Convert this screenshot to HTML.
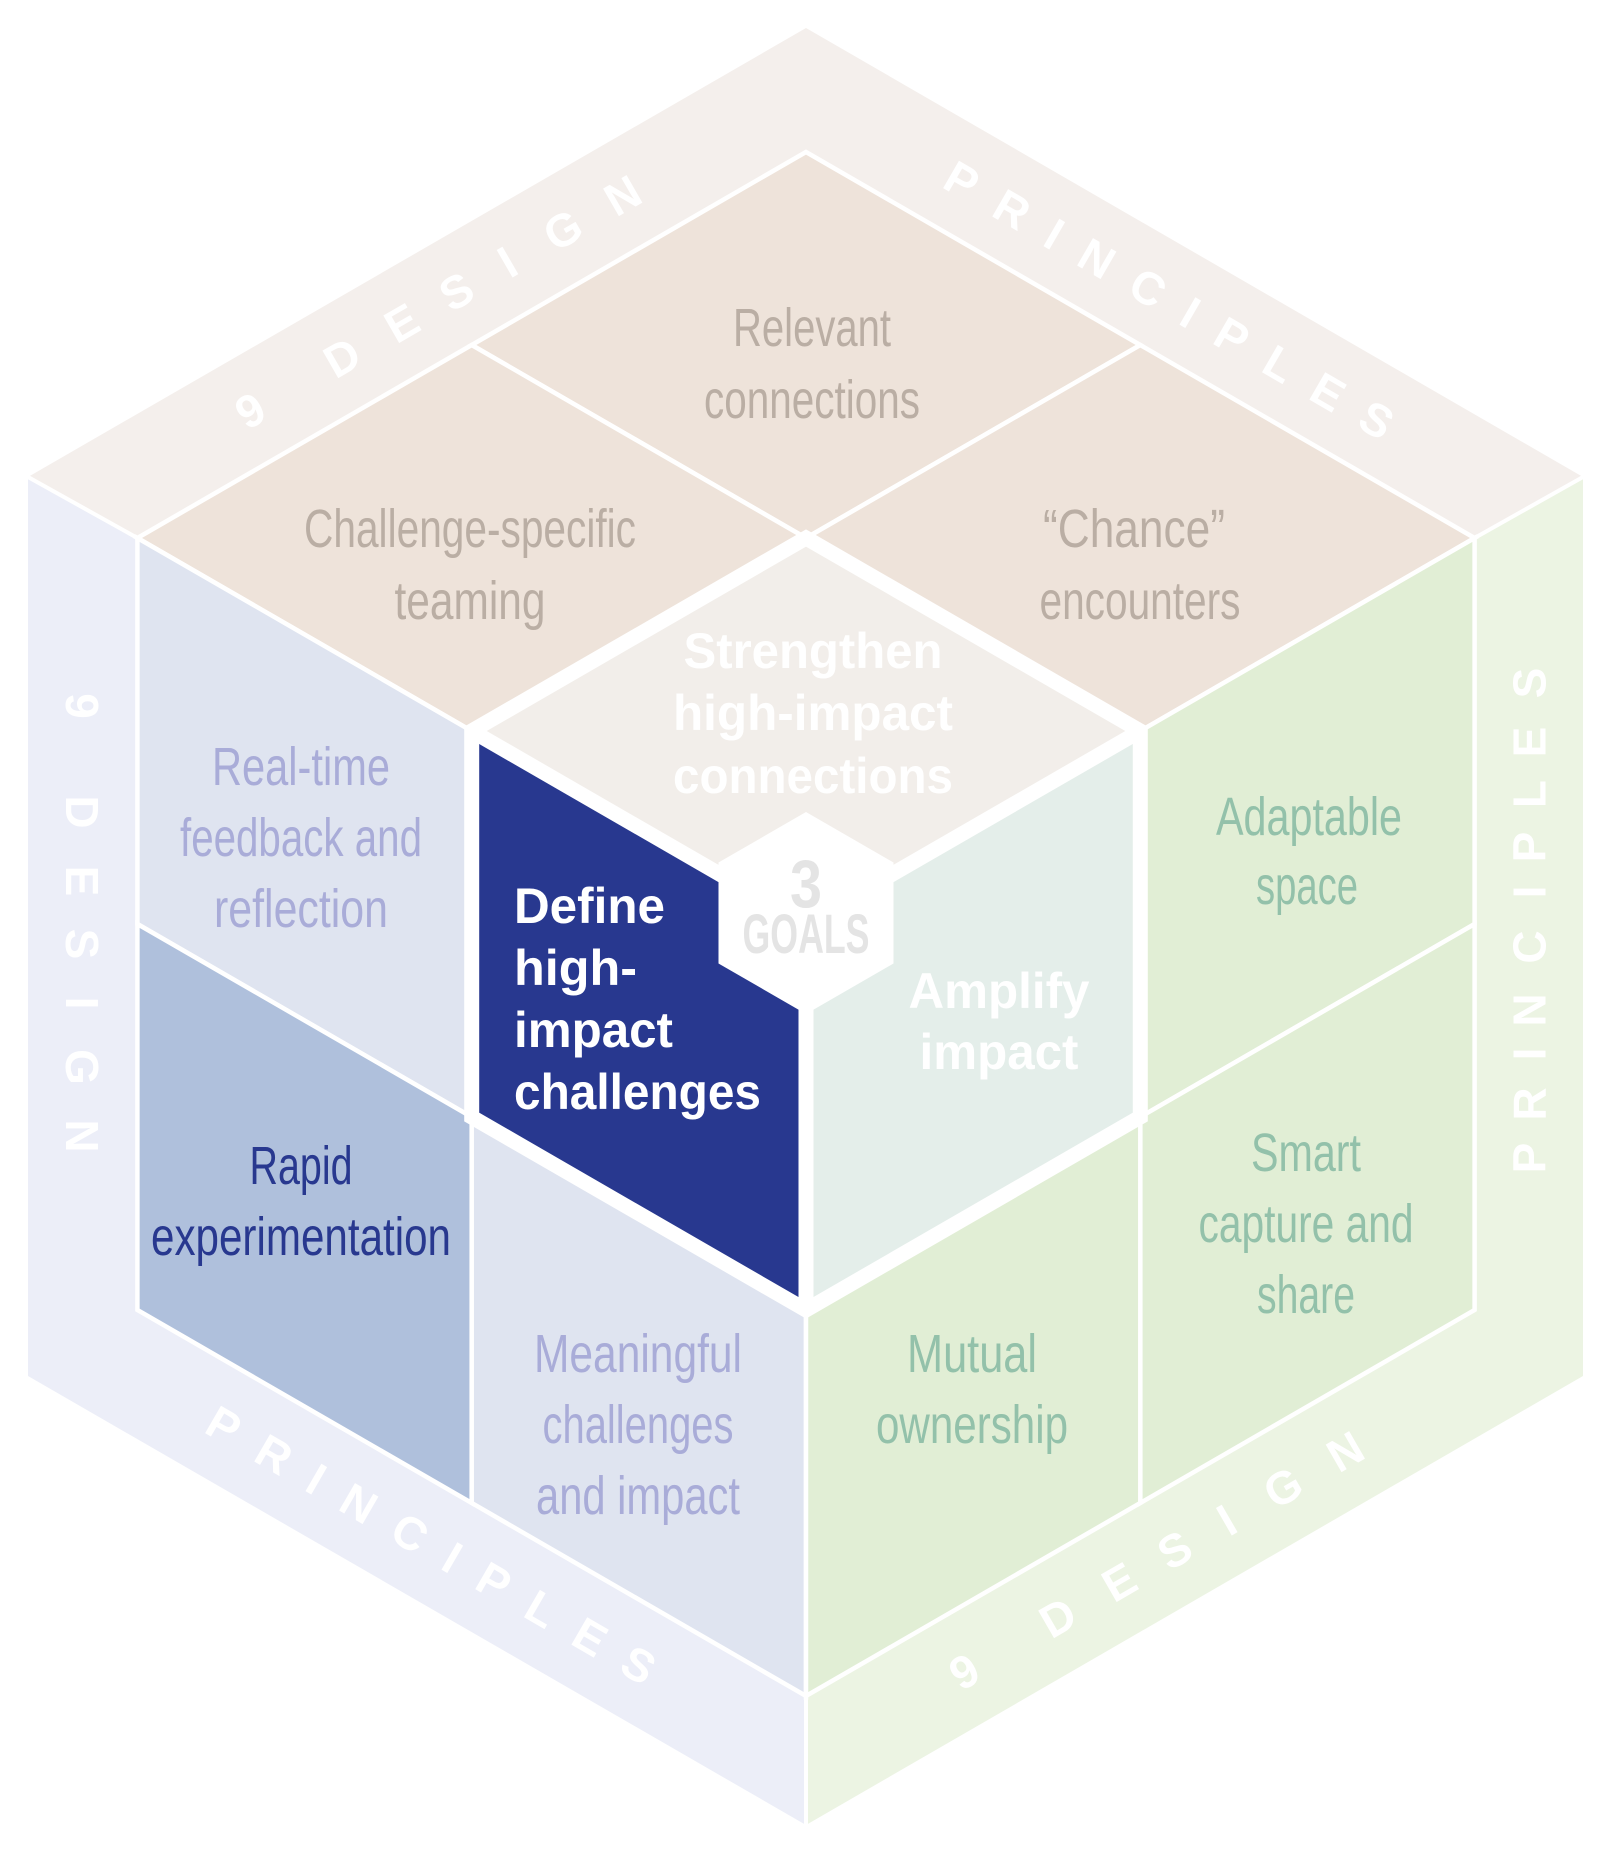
<!DOCTYPE html>
<html>
<head>
<meta charset="utf-8">
<style>
html,body{margin:0;padding:0;background:#ffffff;}
svg{display:block;}
</style>
</head>
<body>
<svg width="1612" height="1854" viewBox="0 0 1612 1854" xmlns="http://www.w3.org/2000/svg">
  <!-- outer bands -->
  <polygon points="806,28 1583,477 806,926 28,477" fill="#F4EFEC"/>
  <polygon points="28,477 806,926 806,1825 28,1376" fill="#ECEEF8"/>
  <polygon points="806,926 1583,477 1583,1376 806,1825" fill="#ECF4E3"/>
  <g stroke="#ffffff" stroke-width="4">
    <line x1="28" y1="477" x2="137.4" y2="538"/>
    <line x1="1583" y1="477" x2="1474.6" y2="538"/>
    <line x1="806" y1="1825" x2="806" y2="1696"/>
  </g>

  <!-- cells -->
  <g stroke="#ffffff" stroke-width="4.5" stroke-linejoin="miter">
    <polygon points="806,152 471.7,345 806,538 1140.3,345" fill="#EEE3DA"/>
    <polygon points="471.7,345 137.4,538 471.7,731 806,538" fill="#EEE3DA"/>
    <polygon points="1140.3,345 806,538 1140.3,731 1474.6,538" fill="#EEE3DA"/>
    <polygon points="806,538 471.7,731 806,924 1140.3,731" fill="#F2EEEA"/>
    <polygon points="137.4,538 471.7,731 471.7,1117 137.4,924" fill="#DFE4F0"/>
    <polygon points="471.7,731 806,924 806,1310 471.7,1117" fill="#28388F"/>
    <polygon points="137.4,924 471.7,1117 471.7,1503 137.4,1310" fill="#AFC0DC"/>
    <polygon points="471.7,1117 806,1310 806,1696 471.7,1503" fill="#DFE4F0"/>
    <polygon points="806,924 1140.3,731 1140.3,1117 806,1310" fill="#E4EEEA"/>
    <polygon points="1140.3,731 1474.6,538 1474.6,924 1140.3,1117" fill="#E1EED5"/>
    <polygon points="1140.3,1117 1474.6,924 1474.6,1310 1140.3,1503" fill="#E1EED5"/>
    <polygon points="806,1310 1140.3,1117 1140.3,1503 806,1696" fill="#E1EED5"/>
  </g>
  <!-- goal cube thick borders -->
  <g stroke="#ffffff" stroke-width="15" fill="none">
    <polygon points="806,538 1140.3,731 1140.3,1117 806,1310 471.7,1117 471.7,731" stroke-linejoin="miter"/>
    <line x1="806" y1="924" x2="471.7" y2="731" stroke-linecap="butt"/>
    <line x1="806" y1="924" x2="1140.3" y2="731" stroke-linecap="butt"/>
    <line x1="806" y1="924" x2="806" y2="1310" stroke-linecap="butt"/>
  </g>

  <!-- band labels -->
  <g font-family="'Liberation Sans', Arial, sans-serif" font-weight="bold" font-size="46" fill="#ffffff" text-anchor="middle">
    <text transform="translate(250,410) rotate(-30)" x="0 106 175 238 297 361 430" y="16.5">9DESIGN</text>
    <text transform="translate(962,180) rotate(30)" x="0 58 107 156 215 264 312 367 423 479" y="16.5">PRINCIPLES</text>
    <text transform="translate(82.5,706) rotate(90)" x="0 106 175 238 297 361 430" y="16.5">9DESIGN</text>
    <text transform="translate(1529,1158) rotate(-90)" x="0 54 104 148 211 266 311 364 416 475" y="16.5">PRINCIPLES</text>
    <text transform="translate(224,1425) rotate(30)" x="0 58 107 156 215 264 312 367 423 479" y="16.5">PRINCIPLES</text>
    <text transform="translate(964,1671) rotate(-30)" x="0 108 179 243 303 368 440" y="16.5">9DESIGN</text>
  </g>

  <!-- regular cell text -->
  <g font-family="'Liberation Sans', Arial, sans-serif" font-size="54" text-anchor="middle">
    <g fill="#BAAEA4">
      <text x="812" y="346" textLength="158" lengthAdjust="spacingAndGlyphs">Relevant</text>
      <text x="812" y="418" textLength="216" lengthAdjust="spacingAndGlyphs">connections</text>
      <text x="470" y="547" textLength="332" lengthAdjust="spacingAndGlyphs">Challenge-specific</text>
      <text x="470" y="619" textLength="151" lengthAdjust="spacingAndGlyphs">teaming</text>
      <text x="1134" y="547" textLength="182" lengthAdjust="spacingAndGlyphs">“Chance”</text>
      <text x="1140" y="619" textLength="201" lengthAdjust="spacingAndGlyphs">encounters</text>
    </g>
    <g fill="#A9ACD8">
      <text x="301" y="785" textLength="178" lengthAdjust="spacingAndGlyphs">Real-time</text>
      <text x="301" y="856" textLength="242" lengthAdjust="spacingAndGlyphs">feedback and</text>
      <text x="301" y="927" textLength="174" lengthAdjust="spacingAndGlyphs">reflection</text>
      <text x="638" y="1372" textLength="208" lengthAdjust="spacingAndGlyphs">Meaningful</text>
      <text x="638" y="1443" textLength="191" lengthAdjust="spacingAndGlyphs">challenges</text>
      <text x="638" y="1514" textLength="204" lengthAdjust="spacingAndGlyphs">and impact</text>
    </g>
    <g fill="#28388F">
      <text x="301" y="1184" textLength="103" lengthAdjust="spacingAndGlyphs">Rapid</text>
      <text x="301" y="1255" textLength="300" lengthAdjust="spacingAndGlyphs">experimentation</text>
    </g>
    <g fill="#93C1AA">
      <text x="1309" y="835" textLength="186" lengthAdjust="spacingAndGlyphs">Adaptable</text>
      <text x="1307" y="904" textLength="102" lengthAdjust="spacingAndGlyphs">space</text>
      <text x="1306" y="1171" textLength="110" lengthAdjust="spacingAndGlyphs">Smart</text>
      <text x="1306" y="1242" textLength="215" lengthAdjust="spacingAndGlyphs">capture and</text>
      <text x="1306" y="1313" textLength="98" lengthAdjust="spacingAndGlyphs">share</text>
      <text x="972" y="1372" textLength="130" lengthAdjust="spacingAndGlyphs">Mutual</text>
      <text x="972" y="1443" textLength="192" lengthAdjust="spacingAndGlyphs">ownership</text>
    </g>
  </g>

  <!-- bold goal text -->
  <g font-family="'Liberation Sans', Arial, sans-serif" font-weight="bold" font-size="50" fill="#ffffff">
    <g text-anchor="middle">
      <text x="813" y="668" textLength="259" lengthAdjust="spacingAndGlyphs">Strengthen</text>
      <text x="813" y="730" textLength="280" lengthAdjust="spacingAndGlyphs">high-impact</text>
      <text x="813" y="793" textLength="280" lengthAdjust="spacingAndGlyphs">connections</text>
      <text x="999" y="1008" textLength="181" lengthAdjust="spacingAndGlyphs">Amplify</text>
      <text x="999" y="1069" textLength="159" lengthAdjust="spacingAndGlyphs">impact</text>
    </g>
    <g text-anchor="start">
      <text x="514" y="923" textLength="151" lengthAdjust="spacingAndGlyphs">Define</text>
      <text x="514" y="985" textLength="123" lengthAdjust="spacingAndGlyphs">high-</text>
      <text x="514" y="1047" textLength="159" lengthAdjust="spacingAndGlyphs">impact</text>
      <text x="514" y="1109" textLength="247" lengthAdjust="spacingAndGlyphs">challenges</text>
    </g>
  </g>

  <!-- 3 GOALS hexagon -->
  <polygon points="806,812 893.5,862.5 893.5,963.5 806,1014 718.5,963.5 718.5,862.5" fill="#ffffff"/>
  <g font-family="'Liberation Sans', Arial, sans-serif" font-weight="bold" fill="#E4E4E4" text-anchor="middle">
    <text x="806" y="907" font-size="68" textLength="32" lengthAdjust="spacingAndGlyphs">3</text>
    <text x="806" y="953" font-size="56" textLength="127" lengthAdjust="spacingAndGlyphs">GOALS</text>
  </g>
</svg>
</body>
</html>
